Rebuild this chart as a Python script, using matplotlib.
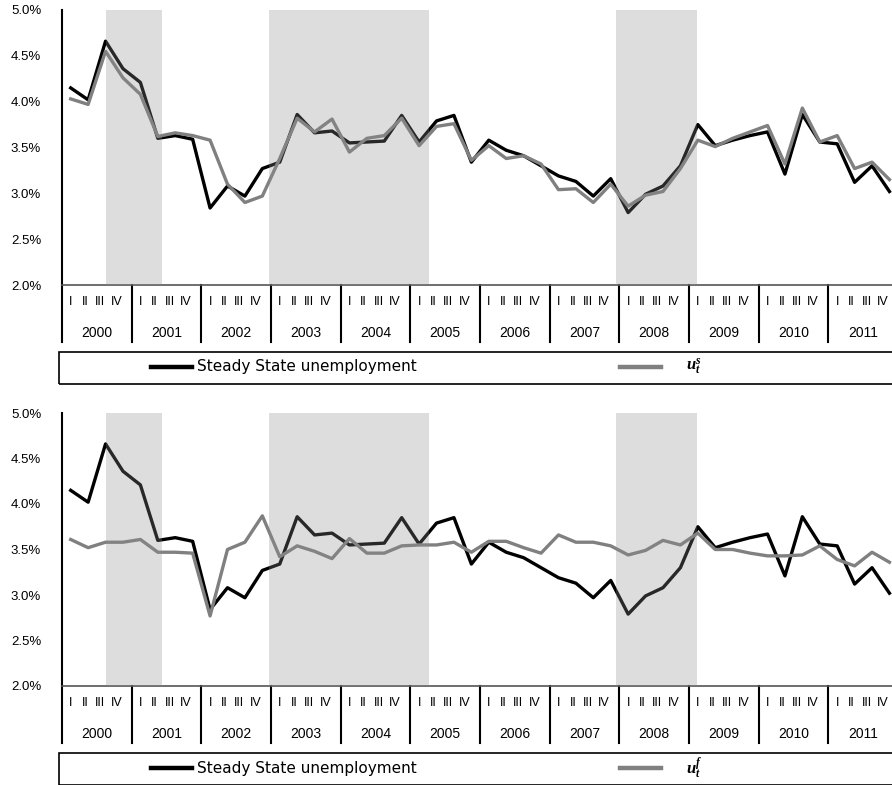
import numpy as np
import matplotlib
matplotlib.use('Agg')
import matplotlib.pyplot as plt
from matplotlib.patches import Rectangle
from matplotlib.lines import Line2D

plt.rcParams['font.family'] = ['Liberation Sans', 'DejaVu Sans']
plt.rcParams['mathtext.fontset'] = 'custom'
plt.rcParams['mathtext.it'] = 'Liberation Serif:italic:bold'
plt.rcParams['mathtext.rm'] = 'Liberation Serif:bold'

# data (quarterly, 2000Q1 - 2011Q4)
years = list(range(2000, 2012))
quarter_names = ['I', 'II', 'III', 'IV']

steady_state = [4.15, 4.02, 4.66, 4.36, 4.21, 3.60, 3.63, 3.59,
                2.84, 3.08, 2.97, 3.27, 3.34, 3.86, 3.66, 3.68,
                3.55, 3.56, 3.57, 3.85, 3.56, 3.79, 3.85, 3.34,
                3.58, 3.47, 3.41, 3.30, 3.19, 3.13, 2.97, 3.16,
                2.79, 2.99, 3.08, 3.30, 3.75, 3.52, 3.58, 3.63,
                3.67, 3.21, 3.86, 3.56, 3.54, 3.12, 3.30, 3.02]

u_s = [4.03, 3.97, 4.55, 4.26, 4.08, 3.62, 3.66, 3.63,
       3.58, 3.10, 2.90, 2.97, 3.38, 3.82, 3.67, 3.81,
       3.45, 3.60, 3.63, 3.82, 3.52, 3.73, 3.76, 3.36,
       3.52, 3.38, 3.41, 3.32, 3.04, 3.05, 2.90, 3.10,
       2.86, 2.98, 3.02, 3.27, 3.58, 3.51, 3.60, 3.67,
       3.74, 3.32, 3.93, 3.56, 3.63, 3.27, 3.34, 3.15]

u_f = [3.61, 3.52, 3.58, 3.58, 3.61, 3.47, 3.47, 3.46,
       2.77, 3.50, 3.58, 3.87, 3.42, 3.54, 3.48, 3.40,
       3.62, 3.46, 3.46, 3.54, 3.55, 3.55, 3.58, 3.47,
       3.59, 3.59, 3.52, 3.46, 3.66, 3.58, 3.58, 3.54,
       3.44, 3.49, 3.60, 3.55, 3.68, 3.50, 3.50, 3.46,
       3.43, 3.43, 3.44, 3.54, 3.39, 3.32, 3.47, 3.36]

# shaded periods, in quarters counted from 2000Q1
shade_start = [2.5, 11.9, 31.8]
shade_end = [5.75, 21.05, 36.45]

W, H = 892, 785
fig = plt.figure(figsize=(W / 100, H / 100), dpi=100)

# labels sit a bit left of the quarter centres, like the original
q_offset = [0.5, 1.32, 2.18, 3.12]


def panel(top, bottom, other, label, leg_top):
    ax = fig.add_axes([62 / W, 1 - bottom / H, (W - 62) / W, (bottom - top) / H])
    x = np.arange(len(steady_state)) + 0.5
    ax.plot(x, steady_state, color='black', lw=2.4, zorder=3)
    ax.plot(x, other, color='#808080', lw=2.4, zorder=4)
    for s, e in zip(shade_start, shade_end):
        ax.axvspan(s, e, color='#8c8c8c', alpha=0.29, lw=0, zorder=5)

    ax.set_xlim(0, (W - 62) / 17.42)
    ax.set_ylim(2.0, 5.0)
    yt = np.arange(2.0, 5.01, 0.5)
    ax.set_yticks(yt)
    ax.set_yticklabels(['{:.1f}%'.format(v) for v in yt])
    ax.tick_params(axis='y', length=0, pad=15, labelsize=9.5)
    ax.set_xticks([])
    for sp in ['top', 'right']:
        ax.spines[sp].set_visible(False)
    ax.spines['left'].set_linewidth(1.5)
    ax.spines['bottom'].set_color('#555555')
    ax.spines['bottom'].set_linewidth(1.2)

    h = bottom - top
    ext = -(342 - 285) / h
    tr = ax.get_xaxis_transform()
    ax.plot([0, 0], [0, ext], color='black', lw=1.5, transform=tr, clip_on=False)
    for k in range(1, len(years) + 1):
        ax.plot([4 * k, 4 * k], [0, ext], color='black', lw=1.5,
                transform=tr, clip_on=False)
    for k in range(len(years)):
        for q in range(4):
            ax.text(4 * k + q_offset[q], -(302 - 285) / h, quarter_names[q],
                    transform=tr, ha='center', va='center', fontsize=9,
                    family=['Liberation Sans Narrow', 'Liberation Sans'])
    for k, yr in enumerate(years):
        ax.text(4 * k + 2, -(333 - 285) / h, str(yr), transform=tr,
                ha='center', va='center', fontsize=10)

    # legend box
    fig.add_artist(Rectangle((59 / W, 1 - (leg_top + 32) / H), 1.0, 32 / H,
                             transform=fig.transFigure, fill=False,
                             ec='black', lw=1.2))
    ly = 1 - (leg_top + 15) / H
    fig.add_artist(Line2D([151 / W, 192 / W], [ly, ly], transform=fig.transFigure,
                          color='black', lw=3.2))
    fig.text(197 / W, ly, 'Steady State unemployment', va='center',
             fontsize=11, family='DejaVu Sans')
    fig.add_artist(Line2D([620 / W, 661 / W], [ly, ly], transform=fig.transFigure,
                          color='#808080', lw=3.2))
    fig.text(686 / W, ly, label, va='center', fontsize=12)
    return ax


panel(10, 285, u_s, r'$u_t^s$', 352)
panel(413, 686, u_f, r'$u_t^f$', 753)

fig.savefig('out.png', dpi=100)
